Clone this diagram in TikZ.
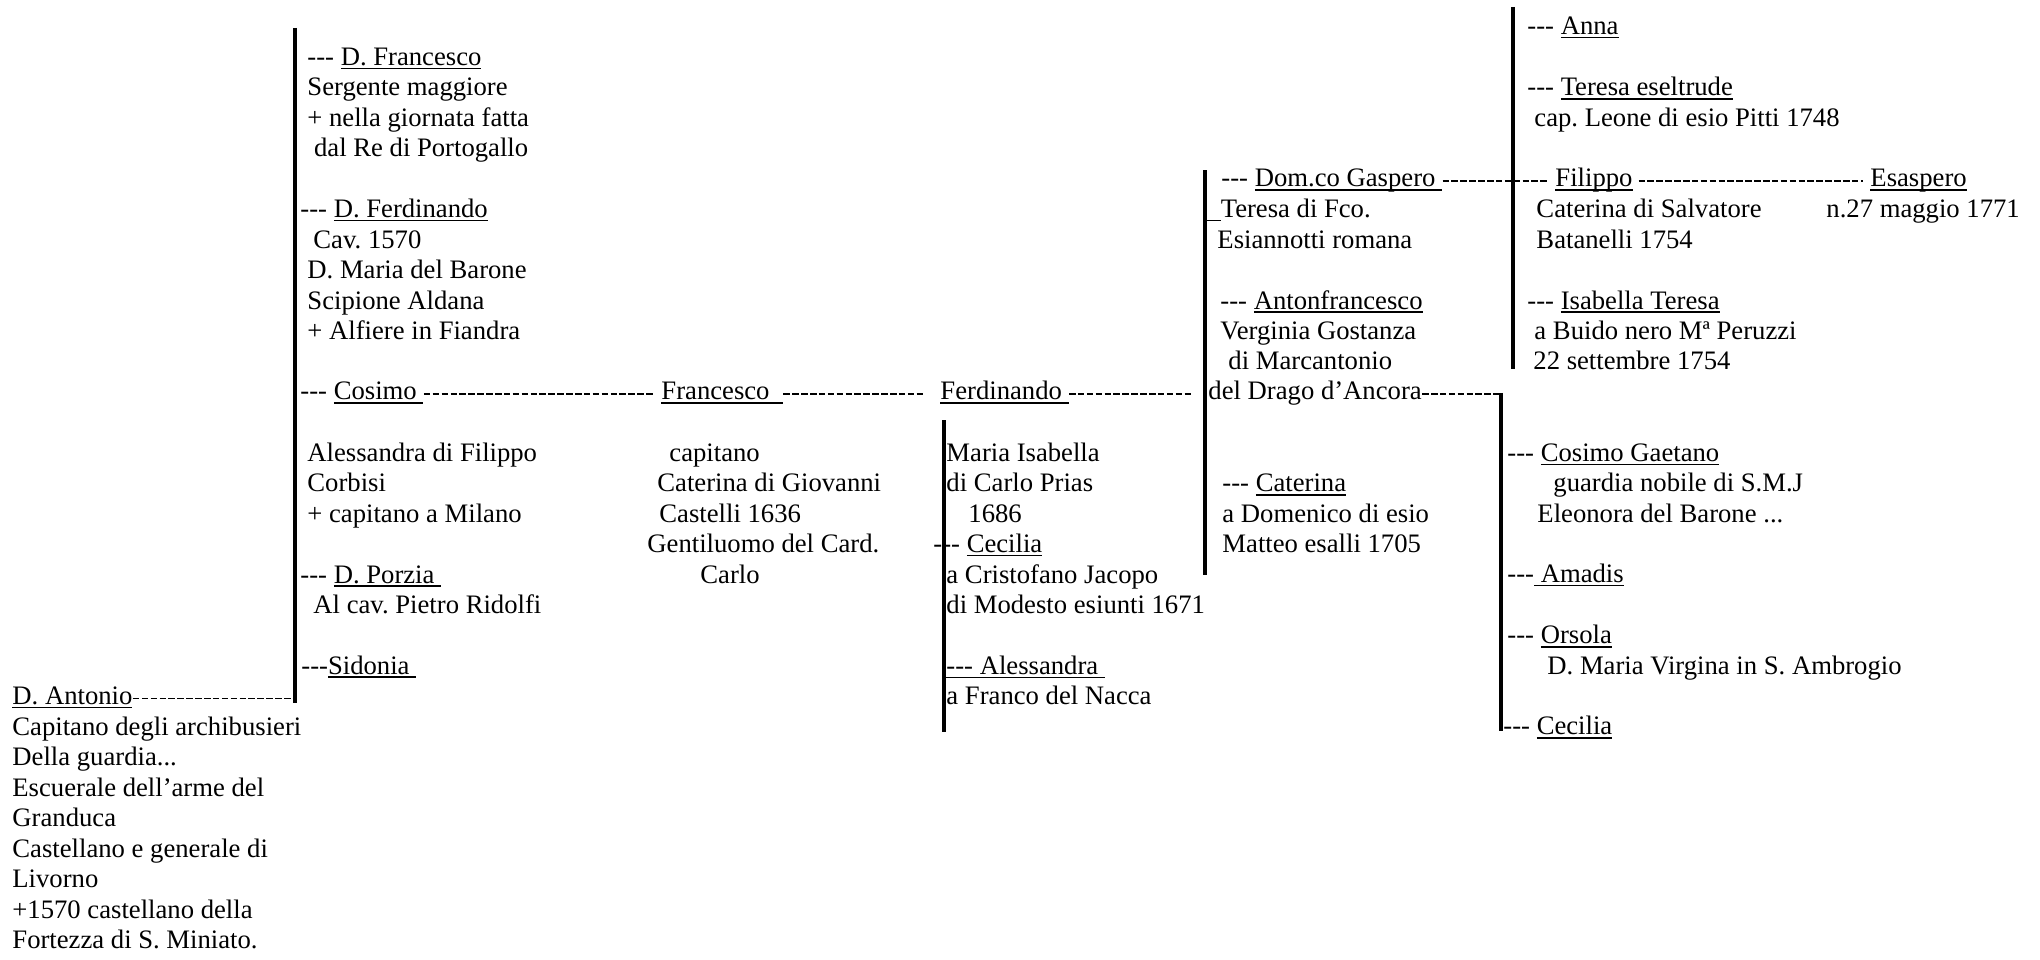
\documentclass[tikz,border=0pt]{standalone}
\usepackage{fontspec}
\usepackage{tikz}
\newfontfamily\treefont{Liberation Serif}
\newlength\pxunit
\setlength\pxunit{0.45pt}
\newcommand\indpx[1]{\hspace*{#1\pxunit}}
\newcommand\nameline[1]{\setbox0=\hbox{#1}\rlap{\rule[-1.7pt]{\wd0}{0.7pt}}\box0}

\begin{document}
\begin{tikzpicture}[x=0.45pt,y=-13.7025pt,
	person/.style={anchor=base west,inner sep=0pt,text height=9.6pt,text depth=4.1pt,font={\treefont\fontsize{12}{13.7}\selectfont\frenchspacing}},
	notes/.style={anchor=north west,yshift=9.59pt,inner sep=0pt,align=left,font={\treefont\fontsize{12}{13.7}\selectfont\frenchspacing}},
	stem/.style={line width=1.6pt},
	kin/.style={line width=0.75pt,dash pattern=on 2.95pt off 1.05pt}]
	
	\useasboundingbox (0,-2.1346) rectangle (2040,29.3924);
	
	\node[notes] (dfrancesco) at (307,0) {\strut--- \nameline{D. Francesco}\\Sergente maggiore\\+ nella giornata fatta\\\indpx{6.7}dal Re di Portogallo};
	\node[notes] (dferdinando) at (300,5) {\strut--- \nameline{D. Ferdinando}\\\indpx{13}Cav. 1570\\\indpx{7}D. Maria del Barone\\\indpx{7}Scipione Aldana\\\indpx{7}+ Alfiere in Fiandra};
	\node[person] (cosimo) at (300,11) {--- \nameline{Cosimo\ }};
	\node[notes] (cosimowife) at (307,13) {\strut Alessandra di Filippo\\Corbisi\\+ capitano a Milano};
	\node[notes] (dporzia) at (300,17) {\strut--- \nameline{D. Porzia\ }\\\indpx{13}Al cav. Pietro Ridolfi};
	\node[person] (sidonia) at (301,20) {---\nameline{Sidonia\ }};
	\node[person] (antonio) at (12,21) {\nameline{D. Antonio}};
	\node[notes] (antonionotes) at (12,22) {\strut Capitano degli archibusieri\\Della guardia...\\Escuerale dell’arme del\\Granduca\\Castellano e generale di\\Livorno\\+1570 castellano della\\Fortezza di S. Miniato.};
	
	\node[person] (francesco) at (661,11) {\nameline{Francesco\ \ }};
	\node[notes] (francesconotes) at (647,13) {\strut\indpx{22}capitano\\\indpx{10}Caterina di Giovanni\\\indpx{12}Castelli 1636\\Gentiluomo del Card.\\\indpx{53}Carlo};
	
	\node[person] (ferdinando) at (940,11) {\nameline{Ferdinando\ }};
	\node[notes] (ferdinandowife) at (946,13) {\strut Maria Isabella\\di Carlo Prias\\\indpx{22}1686};
	\node[notes] (cecilia) at (933,16) {\strut--- \nameline{Cecilia}\\\indpx{13}a Cristofano Jacopo\\\indpx{13}di Modesto esiunti 1671};
	\node[notes] (alessandra) at (946,20) {\strut\nameline{--- Alessandra\ }\\a Franco del Nacca};
	
	\node[person] (domgaspero) at (1221,4) {--- \nameline{Dom.co Gaspero\ }};
	\node[notes] (gasperowife) at (1207,5) {\strut\nameline{\ \ }Teresa di Fco.\\\indpx{10}Esiannotti romana};
	\node[notes] (antonfrancesco) at (1220,8) {\strut--- \nameline{Antonfrancesco}\\Verginia Gostanza\\\indpx{8}di Marcantonio};
	\node[person] (drago) at (1208,11) {del Drago d’Ancora};
	\node[notes] (caterina) at (1222,14) {\strut--- \nameline{Caterina}\\a Domenico di esio\\Matteo esalli 1705};
	
	\node[person] (anna) at (1527,-1) {--- \nameline{Anna}};
	\node[notes] (teresa) at (1527,1) {\strut--- \nameline{Teresa eseltrude}\\\indpx{7}cap. Leone di esio Pitti 1748};
	\node[person] (filippo) at (1555,4) {\nameline{Filippo}};
	\node[notes] (filippowife) at (1536,5) {\strut Caterina di Salvatore\\Batanelli 1754};
	\node[notes] (isabella) at (1527,8) {\strut--- \nameline{Isabella Teresa}\\\indpx{7}a Buido nero Mª Peruzzi\\\indpx{6}22 settembre 1754};
	\node[person] (esaspero) at (1870,4) {\nameline{Esaspero}};
	\node[notes] (esasperonotes) at (1826,5) {\strut n.27 maggio 1771};
	
	\node[notes] (cosimogaetano) at (1507,13) {\strut--- \nameline{Cosimo Gaetano}\\\indpx{46}guardia nobile di S.M.J\\\indpx{30}Eleonora del Barone ...};
	\node[person] (amadis) at (1507,17) {---\nameline{\ Amadis}};
	\node[notes] (orsola) at (1507,19) {\strut--- \nameline{Orsola}\\\indpx{40}D. Maria Virgina in S. Ambrogio};
	\node[person] (cecilia2) at (1503,22) {--- \nameline{Cecilia}};
	
	\coordinate (b1top) at (295,-1.215);
	\coordinate (b1bot) at (295,20.95);
	\coordinate (b2top) at (944,11.66);
	\coordinate (b2bot) at (944,21.9);
	\coordinate (b3top) at (1205,3.45);
	\coordinate (b3bot) at (1205,16.75);
	\coordinate (b4top) at (1513,-1.905);
	\coordinate (b4bot) at (1513,9.98);
	\coordinate (b5top) at (1501,10.77);
	\coordinate (b5bot) at (1501,21.86);
	
	\draw[stem] (b1top) -- (b1bot);
	\draw[stem] (b2top) -- (b2bot);
	\draw[stem] (b3top) -- (b3bot);
	\draw[stem] (b4top) -- (b4bot);
	\draw[stem] (b5top) -- (b5bot);
	
	\draw[kin] (antonio.east) -- (antonio.east -| b1bot);
	\draw[kin,shorten >=3.5pt] (cosimo.east) -- (francesco.west);
	\draw[kin,shorten >=7.5pt] (francesco.east) -- (ferdinando.west);
	\draw[kin,shorten >=7.5pt] (ferdinando.east) -- (drago.west);
	\draw[kin] (drago.east) -- (drago.east -| b5top);
	\draw[kin,shorten >=3.5pt] (domgaspero.east) -- (filippo.west);
	\draw[kin,shorten <=2.5pt,shorten >=3pt] (filippo.east) -- (esaspero.west);
	
\end{tikzpicture}
\end{document}
